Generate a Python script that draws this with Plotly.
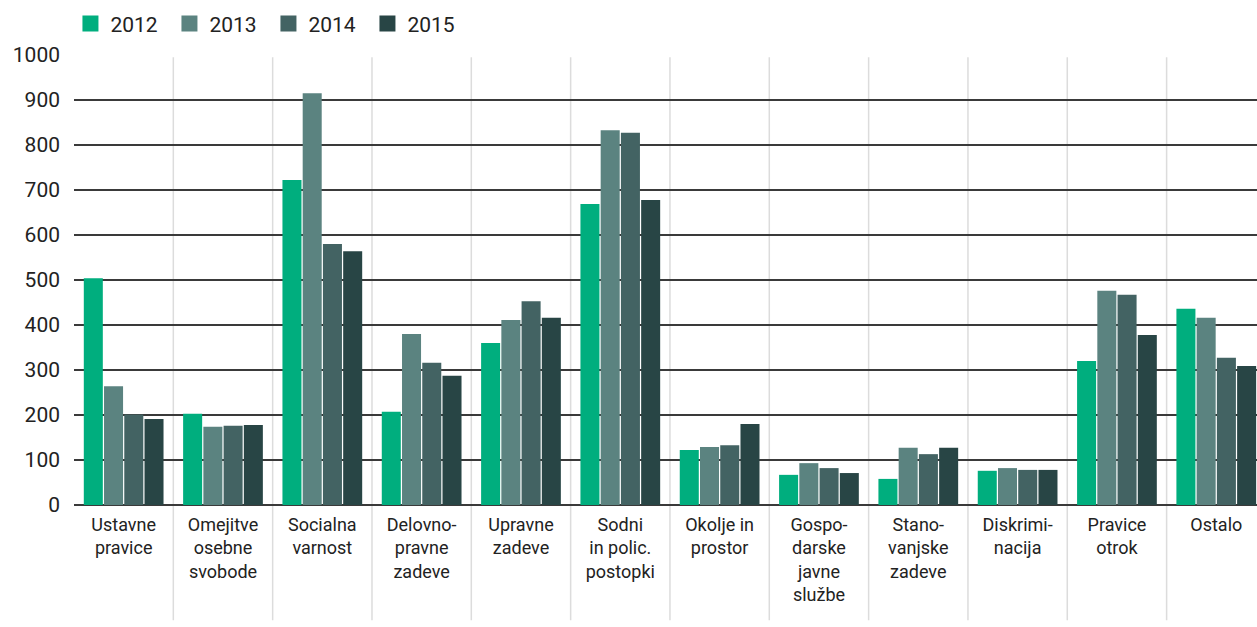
import plotly.graph_objects as go

categories = ["Ustavne<br>pravice", "Omejitve<br>osebne<br>svobode", "Socialna<br>varnost",
              "Delovno-<br>pravne<br>zadeve", "Upravne<br>zadeve", "Sodni<br>in polic.<br>postopki",
              "Okolje in<br>prostor", "Gospo-<br>darske<br>javne<br>službe", "Stano-<br>vanjske<br>zadeve",
              "Diskrimi-<br>nacija", "Pravice<br>otrok", "Ostalo"]
years = ["2012", "2013", "2014", "2015"]
v2012 = [504, 203, 722, 207, 360, 669, 122, 67, 58, 76, 320, 436]
v2013 = [264, 174, 915, 380, 411, 833, 129, 93, 127, 82, 476, 416]
v2014 = [201, 176, 580, 316, 453, 827, 133, 82, 113, 78, 467, 327]
v2015 = [191, 178, 564, 287, 416, 678, 180, 71, 127, 78, 378, 309]
series = [v2012, v2013, v2014, v2015]
colors = ["#00ae7e", "#5b8380", "#436363", "#284545"]
yticks = list(range(0, 1001, 100))

FONT = "Roboto, 'Noto Sans', sans-serif"
fig = go.Figure()
xs = list(range(len(categories)))
for yr, vals, col in zip(years, series, colors):
    fig.add_trace(go.Bar(x=xs, y=vals, name=yr, marker=dict(color=col, line=dict(width=0)),
                         showlegend=False, legendgroup=yr))
    fig.add_trace(go.Scatter(x=[None], y=[None], mode="markers", name=yr, legendgroup=yr,
                             marker=dict(symbol="square", size=16, color=col)))

shapes = []
for i in range(len(categories) - 1):
    shapes.append(dict(type="line", xref="x", yref="paper", x0=i + 0.5, x1=i + 0.5,
                       y0=-0.256, y1=0.995, line=dict(color="#dcdcdc", width=1.5), layer="below"))

fig.update_layout(
    width=1257, height=627,
    margin=dict(l=74, r=0, t=55, b=122),
    plot_bgcolor="white", paper_bgcolor="white",
    font=dict(family=FONT, color="#222222", size=18),
    barmode="group", bargap=0.185, bargroupgap=0.06,
    shapes=shapes,
    legend=dict(orientation="h", x=-0.003, xanchor="left", y=1.069, yanchor="middle",
                font=dict(size=21), entrywidth=54, entrywidthmode="pixels",
                itemclick=False, bgcolor="rgba(0,0,0,0)"),
    xaxis=dict(tickmode="array", tickvals=xs, ticktext=categories, range=[-0.5, 11.41],
               tickangle=0, showgrid=False, zeroline=False, showline=False, ticks="",
               tickfont=dict(size=18), ticklabelstandoff=7),
    yaxis=dict(range=[0, 1000], tickmode="array", tickvals=yticks, ticktext=[str(t) for t in yticks],
               showgrid=True, gridcolor="#3a3a3a", gridwidth=1.5, zeroline=True,
               zerolinecolor="#3a3a3a", zerolinewidth=1.5, showline=False, ticks="",
               tickfont=dict(size=21), ticklabelstandoff=13),
)
fig.write_html("out.html", config={"displayModeBar": False},
               post_script="document.body.style.margin='0';document.body.style.overflow='hidden';")
